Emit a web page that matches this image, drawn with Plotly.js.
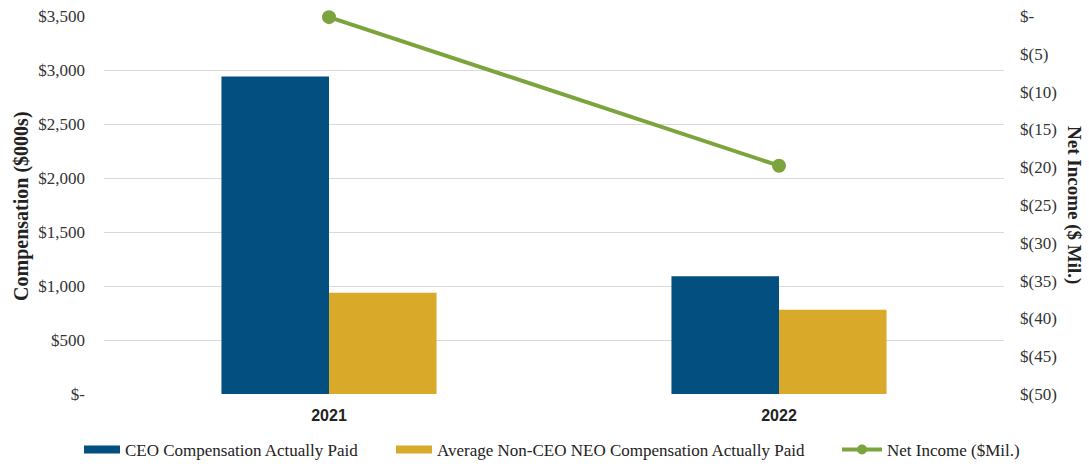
<!DOCTYPE html>
<html>
<head>
<meta charset="utf-8">
<script src="https://cdn.plot.ly/plotly-3.0.1.min.js"></script>
<style>html,body{margin:0;padding:0;background:#fff;}#chart{width:1089px;height:468px;}</style>
</head>
<body>
<div id="chart"></div>
<script>
const years = ['2021', '2022'];
const ceoPaid = [2940, 1090];
const neoPaid = [938, 781];
const netIncome = [-0.15, -19.8];
const seriesNames = ['CEO Compensation Actually Paid', 'Average Non-CEO NEO Compensation Actually Paid', 'Net Income ($Mil.)'];
const leftTickVals = [0, 500, 1000, 1500, 2000, 2500, 3000, 3500];
const leftTickText = ['$-', '$500', '$1,000', '$1,500', '$2,000', '$2,500', '$3,000', '$3,500'];
const rightTickVals = [0, -5, -10, -15, -20, -25, -30, -35, -40, -45, -50];
const rightTickText = ['$-', '$(5)', '$(10)', '$(15)', '$(20)', '$(25)', '$(30)', '$(35)', '$(40)', '$(45)', '$(50)'];

const serif = '"Liberation Serif", "Times New Roman", serif';
const BLUE = '#024F80', GOLD = '#D9A92A', GREEN = '#7BA43C';

const traces = [
  {type: 'bar', name: seriesNames[0], x: years, y: ceoPaid, marker: {color: BLUE}, yaxis: 'y', showlegend: false},
  {type: 'bar', name: seriesNames[1], x: years, y: neoPaid, marker: {color: GOLD}, yaxis: 'y', showlegend: false},
  {type: 'scatter', mode: 'lines+markers', name: seriesNames[2], x: years, y: netIncome, cliponaxis: false,
   line: {color: GREEN, width: 4}, marker: {color: GREEN, size: 14}, yaxis: 'y2', showlegend: false},
  // legend swatches (no data)
  {type: 'scatter', mode: 'lines', name: seriesNames[0], x: [null], y: [null], line: {color: BLUE, width: 8}, legend: 'legend', showlegend: true},
  {type: 'scatter', mode: 'lines', name: seriesNames[1], x: [null], y: [null], line: {color: GOLD, width: 8}, legend: 'legend2', showlegend: true},
  {type: 'scatter', mode: 'lines+markers', name: seriesNames[2], x: [null], y: [null], yaxis: 'y2',
   line: {color: GREEN, width: 4}, marker: {color: GREEN, size: 10}, legend: 'legend3', showlegend: true}
];

const legendBase = {orientation: 'h', xref: 'container', yref: 'container', y: 0.0385, yanchor: 'middle', xanchor: 'left',
  bgcolor: 'rgba(0,0,0,0)', borderwidth: 0, font: {family: serif, size: 17, color: '#222'}};

const layout = {
  width: 1089, height: 468,
  margin: {l: 104, r: 85, t: 16, b: 74},
  paper_bgcolor: '#fff', plot_bgcolor: '#fff',
  barmode: 'group', bargap: 0.522, bargroupgap: 0,
  showlegend: true,
  legend: Object.assign({}, legendBase, {x: 79 / 1089, itemwidth: 36}),
  legend2: Object.assign({}, legendBase, {x: 391 / 1089, itemwidth: 36}),
  legend3: Object.assign({}, legendBase, {x: 837 / 1089, itemwidth: 40}),
  xaxis: {type: 'category', showgrid: false, zeroline: false, showline: false, ticks: '', ticklabelstandoff: 10,
          tickfont: {family: '"Liberation Sans", Arial, sans-serif', size: 16, color: '#222', weight: 'bold'},
          automargin: false},
  yaxis: {range: [0, 3500], tickvals: leftTickVals, ticktext: leftTickText,
          showgrid: true, gridcolor: '#d9d9d9', gridwidth: 1, zeroline: false, showline: false,
          ticks: '', ticklabelstandoff: 18,
          tickfont: {family: serif, size: 17, color: '#333'}, automargin: false},
  yaxis2: {overlaying: 'y', side: 'right', range: [-50, 0], tickvals: rightTickVals, ticktext: rightTickText,
           showgrid: false, zeroline: false, showline: false, ticks: '', ticklabelstandoff: 15,
           tickfont: {family: serif, size: 17, color: '#333'}, automargin: false},
  annotations: [
    {text: '<b>Compensation ($000s)</b>', xref: 'paper', yref: 'paper', x: 0, y: 0.495,
     xshift: -82, textangle: -90, showarrow: false, xanchor: 'center', yanchor: 'middle',
     font: {family: serif, size: 20, color: '#222'}},
    {text: '<b>Net Income ($ Mil.)</b>', xref: 'paper', yref: 'paper', x: 1, y: 0.5,
     xshift: 70, textangle: 90, showarrow: false, xanchor: 'center', yanchor: 'middle',
     font: {family: serif, size: 19, color: '#222'}}
  ]
};

Plotly.newPlot('chart', traces, layout, {displayModeBar: false, staticPlot: true});
</script>
</body>
</html>
